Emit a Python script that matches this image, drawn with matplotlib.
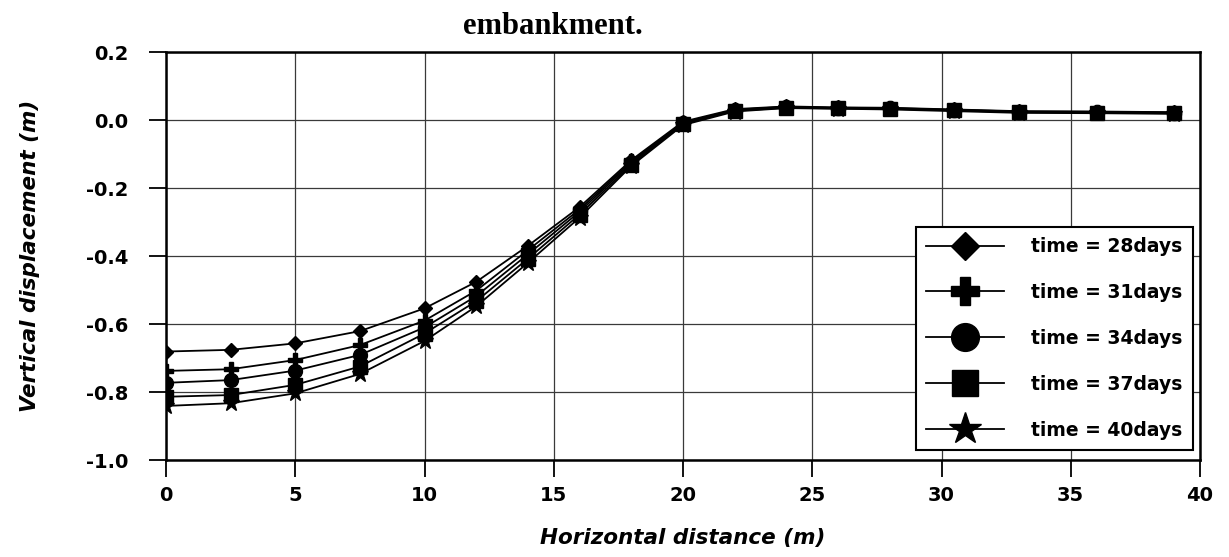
import matplotlib
matplotlib.use("Agg")
import matplotlib.pyplot as plt
from matplotlib.ticker import FormatStrFormatter

# Horizontal positions of the measurement points (m)
distance = [0, 2.5, 5, 7.5, 10, 12, 14, 16, 18, 20, 22, 24, 26, 28, 30.5, 33, 36, 39]

# Vertical displacement (m) at each elapsed time
disp_28 = [-0.681, -0.676, -0.657, -0.621, -0.554, -0.476, -0.370, -0.256, -0.118, -0.005,
           0.032, 0.040, 0.037, 0.036, 0.031, 0.026, 0.025, 0.023]
disp_31 = [-0.738, -0.733, -0.706, -0.662, -0.590, -0.502, -0.383, -0.263, -0.122, -0.008,
           0.030, 0.039, 0.036, 0.035, 0.030, 0.025, 0.024, 0.022]
disp_34 = [-0.773, -0.765, -0.737, -0.691, -0.610, -0.518, -0.395, -0.270, -0.126, -0.010,
           0.029, 0.038, 0.035, 0.034, 0.029, 0.024, 0.023, 0.021]
disp_37 = [-0.814, -0.809, -0.779, -0.725, -0.628, -0.533, -0.408, -0.278, -0.131, -0.012,
           0.027, 0.036, 0.034, 0.033, 0.028, 0.023, 0.021, 0.020]
disp_40 = [-0.841, -0.833, -0.804, -0.747, -0.650, -0.548, -0.420, -0.287, -0.135, -0.015,
           0.025, 0.035, 0.033, 0.031, 0.026, 0.021, 0.020, 0.018]

series_labels = ["time = 28days", "time = 31days", "time = 34days",
                 "time = 37days", "time = 40days"]
x_ticks = [0, 5, 10, 15, 20, 25, 30, 35, 40]
y_ticks = [-1.0, -0.8, -0.6, -0.4, -0.2, 0.0, 0.2]

plt.rcParams["font.family"] = ["DejaVu Sans"]
plt.rcParams["axes.unicode_minus"] = False

fig = plt.figure(figsize=(12.29, 5.57), dpi=100)
ax = fig.add_axes([166 / 1229, 97 / 557, 1034 / 1229, 408 / 557])

styles = [("D", 7.0), ("P", 10.0), ("o", 10.0), ("s", 9.5), ("*", 12.0)]
for ys, label, (mk, ms) in zip([disp_28, disp_31, disp_34, disp_37, disp_40],
                               series_labels, styles):
    ax.plot(distance, ys, color="black", linewidth=1.3, marker=mk, markersize=ms,
            markerfacecolor="black", markeredgecolor="black", label=label, zorder=3)

ax.set_xlim(0, 40)
ax.set_ylim(-1.0, 0.2)
ax.set_xticks(x_ticks)
ax.set_yticks(y_ticks)
ax.yaxis.set_major_formatter(FormatStrFormatter("%.1f"))
ax.grid(True, color="#3a3a3a", linewidth=0.9)
ax.set_axisbelow(True)

for side in ["left", "right", "top", "bottom"]:
    ax.spines[side].set_linewidth(1.8)
    ax.spines[side].set_color("black")

ax.tick_params(axis="both", direction="out", length=12, width=1.3, colors="black")
ax.tick_params(axis="x", pad=7, labelsize=14)
ax.tick_params(axis="y", pad=15, labelsize=14)
for lab in ax.get_xticklabels() + ax.get_yticklabels():
    lab.set_fontweight("bold")

ax.set_xlabel("Horizontal distance (m)", fontsize=15.5, fontweight="bold", fontstyle="italic")
ax.set_ylabel("Vertical displacement (m)", fontsize=15.5, fontweight="bold", fontstyle="italic")
ax.xaxis.set_label_coords(0.5, -0.167)
ax.yaxis.set_label_coords(-0.122, 0.5)

leg = ax.legend(loc="lower right", bbox_to_anchor=(0.9932, 0.0245), borderaxespad=0,
                prop={"weight": "bold", "size": 13.5}, markerscale=2.0,
                handlelength=4.15, handletextpad=1.44, labelspacing=1.435,
                borderpad=0.55, fancybox=False, framealpha=1, edgecolor="black")
leg.get_frame().set_linewidth(1.5)
for line in leg.get_lines():
    line.set_linewidth(1.3)

fig.text(553 / 1229, 1 - 34 / 557, "embankment.", ha="center", va="baseline",
         fontsize=22, fontweight="bold", family=["Liberation Serif"])

fig.savefig("out.png", dpi=100)
